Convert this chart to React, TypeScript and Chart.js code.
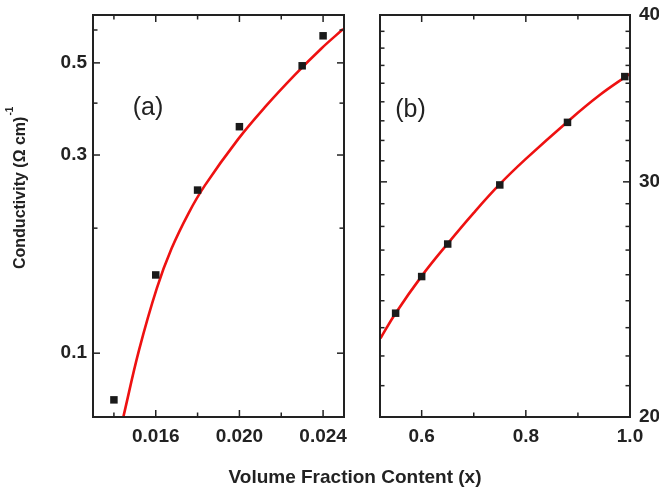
import React, { useEffect, useRef } from "react";
import { Chart, registerables } from "chart.js";

Chart.register(...registerables);

// ---------- Panel (a) data ----------
const xPointsA = [0.014, 0.016, 0.018, 0.02, 0.023, 0.024];
const yPointsA = [0.0772, 0.1543, 0.247, 0.351, 0.492, 0.581];
const xFitA = [0.01445, 0.0152, 0.01605, 0.01676, 0.01756, 0.01835, 0.01994, 0.02122, 0.02265, 0.02392, 0.02496];
const yFitA = [0.0702, 0.1017, 0.1433, 0.1788, 0.2169, 0.2535, 0.3276, 0.3911, 0.4678, 0.5416, 0.6031];
const xTicksA = [0.016, 0.02, 0.024];
const xMinorA = [0.014, 0.018, 0.022];
const yTicksA = [0.1, 0.3, 0.5];
const yMinorA = [0.2, 0.4, 0.6];

// ---------- Panel (b) data ----------
const xPointsB = [0.55, 0.6, 0.65, 0.75, 0.88, 0.99];
const yPointsB = [23.92, 25.48, 26.95, 29.84, 33.24, 35.97];
const xFitB = [0.521, 0.55, 0.6, 0.65, 0.7, 0.75, 0.8, 0.88, 0.94, 1.0];
const yFitB = [22.91, 23.92, 25.5, 26.97, 28.44, 29.88, 31.21, 33.28, 34.8, 36.15];
const xTicksB = [0.6, 0.8, 1.0];
const xMinorB = [0.7, 0.9];
const yTicksB = [20, 30, 40];
const yMinorB = [21.11, 22.22, 23.33, 24.44, 25.56, 26.67, 27.78, 28.89, 31.11, 32.22, 33.33, 34.44, 35.56, 36.67, 37.78, 38.89];

const xTitle = "Volume Fraction Content (x)";
const yTitle = "Conductivity (\u03A9 cm)";
const yTitleSup = "-1";

const FONT = '"Liberation Sans", Arial, Helvetica, sans-serif';
const INK = "#222222";
const RED = "#ee1111";
const W = 659;
const H = 487;

function makeFramePlugin(opts: {
  id: string;
  xMajor: number[];
  xMinor: number[];
  yMajor: number[];
  yMinor: number[];
  label: string;
  labelX: number;
  labelY: number;
  extra?: (ctx: CanvasRenderingContext2D) => void;
}) {
  return {
    id: opts.id,
    afterDatasetsDraw(chart: any) {
      const ctx: CanvasRenderingContext2D = chart.ctx;
      const { left, right, top, bottom } = chart.chartArea;
      const xs = chart.scales.x;
      const ys = chart.scales.y;
      ctx.save();
      ctx.strokeStyle = INK;
      ctx.lineWidth = 1.5;
      const line = (x1: number, y1: number, x2: number, y2: number) => {
        ctx.beginPath();
        ctx.moveTo(x1, y1);
        ctx.lineTo(x2, y2);
        ctx.stroke();
      };
      const doX = (vals: number[], len: number) => {
        for (const v of vals) {
          const p = xs.getPixelForValue(v);
          if (p < left - 0.5 || p > right + 0.5) continue;
          line(p, bottom, p, bottom - len);
          line(p, top, p, top + len);
        }
      };
      const doY = (vals: number[], len: number) => {
        for (const v of vals) {
          const p = ys.getPixelForValue(v);
          if (p < top - 0.5 || p > bottom + 0.5) continue;
          line(left, p, left + len, p);
          line(right, p, right - len, p);
        }
      };
      doX(opts.xMajor, 7);
      doX(opts.xMinor, 4.5);
      doY(opts.yMajor, 7);
      doY(opts.yMinor, 4.5);
      ctx.lineWidth = 2;
      ctx.strokeRect(left, top, right - left, bottom - top);

      ctx.fillStyle = INK;
      ctx.font = `25px ${FONT}`;
      ctx.textAlign = "center";
      ctx.textBaseline = "middle";
      ctx.fillText(opts.label, opts.labelX, opts.labelY);
      if (opts.extra) opts.extra(ctx);
      ctx.restore();
    },
  };
}

function drawTitles(ctx: CanvasRenderingContext2D) {
  ctx.fillStyle = INK;
  ctx.font = `bold 19px ${FONT}`;
  ctx.textAlign = "center";
  ctx.textBaseline = "alphabetic";
  ctx.fillText(xTitle, 355, 483);

  ctx.save();
  ctx.translate(25, 269);
  ctx.rotate(-Math.PI / 2);
  ctx.textAlign = "left";
  ctx.font = `bold 16px ${FONT}`;
  ctx.fillText(yTitle, 0, 0);
  const w = ctx.measureText(yTitle).width;
  ctx.font = `bold 10px ${FONT}`;
  ctx.fillText(yTitleSup, w + 1, -12);
  ctx.restore();
}

function tickFont() {
  return { family: FONT, size: 19, weight: "bold" as const };
}

function zeroPad(s: any) {
  s.paddingTop = 0;
  s.paddingBottom = 0;
  s.paddingLeft = 0;
  s.paddingRight = 0;
}

export default function App() {
  const refA = useRef<HTMLCanvasElement>(null);
  const refB = useRef<HTMLCanvasElement>(null);

  useEffect(() => {
    const chartA = new Chart(refA.current!, {
      type: "scatter",
      data: {
        datasets: [
          {
            data: xPointsA.map((x, i) => ({ x, y: yPointsA[i] })),
            pointStyle: "rect",
            pointRadius: 5.3,
            pointBackgroundColor: "#1a1a1a",
            pointBorderWidth: 0,
            showLine: false,
          },
          {
            data: xFitA.map((x, i) => ({ x, y: yFitA[i] })),
            showLine: true,
            borderColor: RED,
            borderWidth: 2.6,
            pointRadius: 0,
            tension: 0.4,
            fill: false,
          },
        ],
      },
      options: {
        animation: false,
        responsive: false,
        devicePixelRatio: 1,
        events: [],
        layout: { padding: { left: 0, top: 15, right: W - 344, bottom: 0 }, autoPadding: false } as any,
        plugins: { legend: { display: false }, tooltip: { enabled: false } },
        scales: {
          x: {
            type: "linear",
            min: 0.013,
            max: 0.025,
            grid: { display: false, drawTicks: false },
            border: { display: false },
            afterBuildTicks: (s: any) => {
              s.ticks = xTicksA.map((v) => ({ value: v }));
            },
            afterFit: (s: any) => {
              s.height = H - 417;
              zeroPad(s);
            },
            ticks: {
              font: tickFont(),
              color: INK,
              padding: 8,
              maxRotation: 0,
              autoSkip: false,
              callback: (v: any) => Number(v).toFixed(3),
            },
          },
          y: {
            type: "logarithmic",
            min: 0.0702,
            max: 0.652,
            grid: { display: false, drawTicks: false },
            border: { display: false },
            afterBuildTicks: (s: any) => {
              s.ticks = yTicksA.map((v) => ({ value: v }));
            },
            afterFit: (s: any) => {
              s.width = 93;
              zeroPad(s);
            },
            ticks: {
              font: tickFont(),
              color: INK,
              padding: 6,
              autoSkip: false,
              callback: (v: any) => Number(v).toFixed(1),
            },
          },
        },
      },
      plugins: [
        makeFramePlugin({
          id: "frameA",
          xMajor: xTicksA,
          xMinor: xMinorA,
          yMajor: yTicksA,
          yMinor: yMinorA,
          label: "(a)",
          labelX: 148,
          labelY: 108,
          extra: drawTitles,
        }),
      ],
    } as any);

    const chartB = new Chart(refB.current!, {
      type: "scatter",
      data: {
        datasets: [
          {
            data: xPointsB.map((x, i) => ({ x, y: yPointsB[i] })),
            pointStyle: "rect",
            pointRadius: 5.3,
            pointBackgroundColor: "#1a1a1a",
            pointBorderWidth: 0,
            showLine: false,
          },
          {
            data: xFitB.map((x, i) => ({ x, y: yFitB[i] })),
            showLine: true,
            borderColor: RED,
            borderWidth: 2.6,
            pointRadius: 0,
            tension: 0.4,
            fill: false,
          },
        ],
      },
      options: {
        animation: false,
        responsive: false,
        devicePixelRatio: 1,
        events: [],
        layout: { padding: { left: 380, top: 15, right: 0, bottom: 0 }, autoPadding: false } as any,
        plugins: { legend: { display: false }, tooltip: { enabled: false } },
        scales: {
          x: {
            type: "linear",
            min: 0.52,
            max: 1.0,
            grid: { display: false, drawTicks: false },
            border: { display: false },
            afterBuildTicks: (s: any) => {
              s.ticks = xTicksB.map((v) => ({ value: v }));
            },
            afterFit: (s: any) => {
              s.height = H - 417;
              zeroPad(s);
            },
            ticks: {
              font: tickFont(),
              color: INK,
              padding: 8,
              maxRotation: 0,
              autoSkip: false,
              callback: (v: any) => Number(v).toFixed(1),
            },
          },
          y: {
            type: "logarithmic",
            position: "right",
            min: 20,
            max: 40,
            grid: { display: false, drawTicks: false },
            border: { display: false },
            afterBuildTicks: (s: any) => {
              s.ticks = yTicksB.map((v) => ({ value: v }));
            },
            afterFit: (s: any) => {
              s.width = W - 630;
              zeroPad(s);
            },
            ticks: {
              font: tickFont(),
              color: INK,
              padding: 9,
              autoSkip: false,
              callback: (v: any) => String(Math.round(Number(v))),
            },
          },
        },
      },
      plugins: [
        makeFramePlugin({
          id: "frameB",
          xMajor: xTicksB,
          xMinor: xMinorB,
          yMajor: yTicksB,
          yMinor: yMinorB,
          label: "(b)",
          labelX: 410.5,
          labelY: 110,
        }),
      ],
    } as any);

    return () => {
      chartA.destroy();
      chartB.destroy();
    };
  }, []);

  const cs: React.CSSProperties = { position: "absolute", left: 0, top: 0, width: W, height: H };
  return (
    <div style={{ position: "absolute", left: 0, top: 0, width: W, height: H, background: "#fff" }}>
      <canvas ref={refA} width={W} height={H} style={cs} />
      <canvas ref={refB} width={W} height={H} style={cs} />
    </div>
  );
}
